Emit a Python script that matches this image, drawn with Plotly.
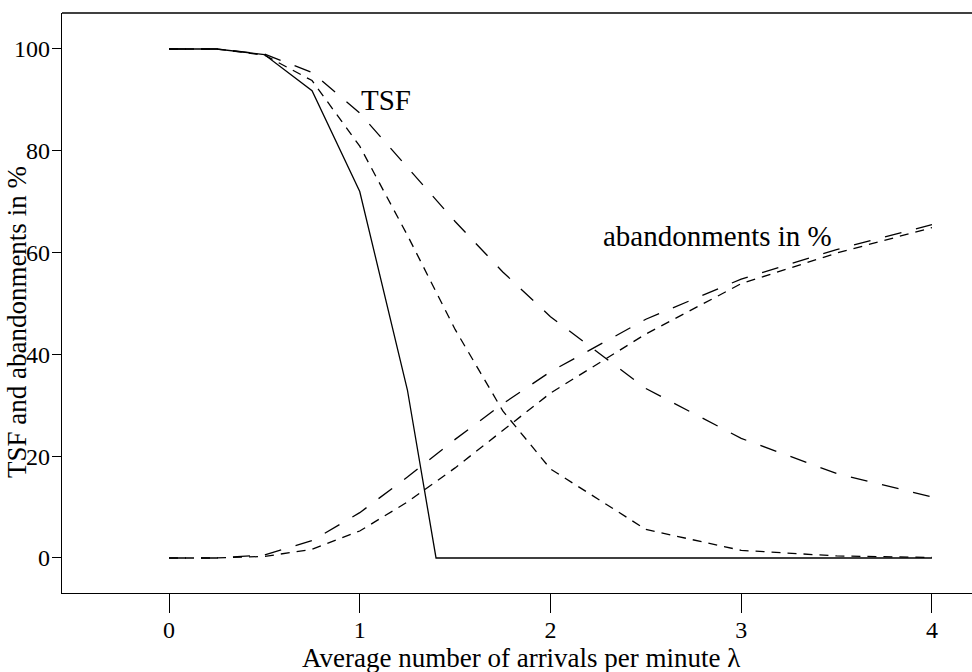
import plotly.graph_objects as go

# Data
lam_solid = [0, 0.25, 0.5, 0.75, 1.0, 1.25, 1.4, 2.0, 2.5, 3.0, 3.5, 4.0]
tsf_solid = [100, 100, 98.9, 91.8, 72.0, 33.0, 0, 0, 0, 0, 0, 0]

lam = [0, 0.25, 0.5, 0.75, 1.0, 1.25, 1.5, 1.75, 2.0, 2.5, 3.0, 3.5, 4.0]
tsf_short = [100, 100, 98.8, 93.8, 80.9, 63.4, 44.9, 28.9, 17.5, 5.6, 1.5, 0.4, 0.1]
tsf_long = [100, 100, 99.0, 95.4, 87.4, 76.8, 66.1, 56.2, 47.4, 33.3, 23.5, 16.6, 12.0]
ab_short = [0, 0, 0.3, 1.7, 5.3, 11.0, 17.7, 25.1, 32.4, 44.0, 53.9, 59.9, 64.9]
ab_long = [0, 0, 0.6, 3.4, 8.9, 15.9, 23.3, 30.3, 36.6, 46.9, 54.8, 60.6, 65.5]

x_ticks = [0, 1, 2, 3, 4]
y_ticks = [0, 20, 40, 60, 80, 100]

FONT = "Liberation Serif"
FS = 29
FS_TITLE = 27
FS_YTITLE = 27
FS_TICK = 24
FS_YTICK = 24
LW = 1.3
SHORT = "9px,7px"
LONG = "17px,15px"

fig = go.Figure()
fig.add_trace(go.Scatter(x=lam_solid, y=tsf_solid, mode="lines",
                         line=dict(color="black", width=LW)))
fig.add_trace(go.Scatter(x=lam, y=tsf_short, mode="lines",
                         line=dict(color="black", width=LW, dash=SHORT)))
fig.add_trace(go.Scatter(x=lam, y=tsf_long, mode="lines",
                         line=dict(color="black", width=LW, dash=LONG)))
fig.add_trace(go.Scatter(x=lam, y=ab_short, mode="lines",
                         line=dict(color="black", width=LW, dash=SHORT)))
fig.add_trace(go.Scatter(x=lam, y=ab_long, mode="lines",
                         line=dict(color="black", width=LW, dash=LONG)))

fig.add_annotation(x=1.137, y=90, xref="x", yref="y", text="TSF",
                   showarrow=False, font=dict(family=FONT, size=FS, color="black"))
fig.add_annotation(x=2.878, y=63.3, xref="x", yref="y", text="abandonments in %",
                   showarrow=False, font=dict(family=FONT, size=FS, color="black"))

# axis titles
fig.add_annotation(x=0.5044, y=-0.1121, xref="paper", yref="paper",
                   text="Average number of arrivals per minute λ", showarrow=False,
                   yanchor="middle", xanchor="center",
                   font=dict(family=FONT, size=FS_TITLE, color="black"))
fig.add_annotation(x=-0.0495, y=0.467, xref="paper", yref="paper",
                   text="TSF and abandonments in %", showarrow=False, textangle=-90,
                   yanchor="middle", xanchor="center",
                   font=dict(family=FONT, size=FS_YTITLE, color="black"))

# top border of the box
fig.add_shape(type="line", xref="paper", yref="paper", x0=0, x1=1, y0=1, y1=1,
              line=dict(color="black", width=LW))

fig.update_layout(
    width=972, height=672,
    margin=dict(l=62, r=0, t=13, b=79),
    plot_bgcolor="white", paper_bgcolor="white",
    showlegend=False,
    font=dict(family=FONT, size=FS, color="black"),
    xaxis=dict(range=[-0.561, 4.21], tickvals=x_ticks, ticks="outside", ticklen=19,
               tickwidth=1, tickcolor="black", showline=True, linecolor="black",
               linewidth=LW, showgrid=False, zeroline=False, automargin=False,
               ticklabelstandoff=-4,
               tickfont=dict(family=FONT, size=FS_TICK, color="black")),
    yaxis=dict(range=[-6.88, 107.07], tickvals=y_ticks, ticks="outside", ticklen=9,
               tickwidth=1, tickcolor="black", showline=True, linecolor="black",
               linewidth=LW, showgrid=False, zeroline=False, automargin=False,
               ticklabelstandoff=-3,
               tickfont=dict(family=FONT, size=FS_YTICK, color="black")),
)

fig.write_html("out.html", config={"displayModeBar": False},
               post_script="document.body.style.margin='0';document.body.style.overflow='hidden';")
